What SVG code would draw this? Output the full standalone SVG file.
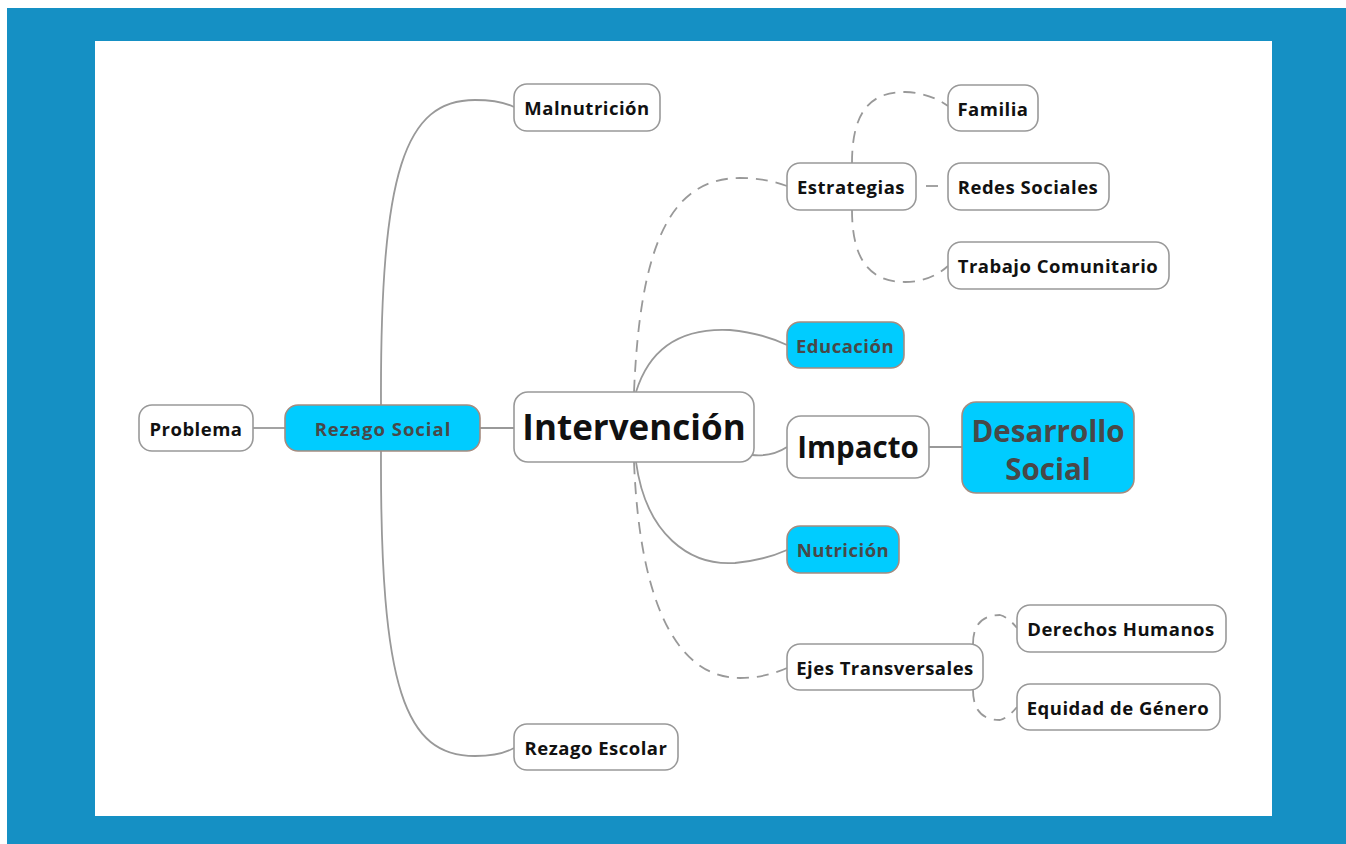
<svg xmlns="http://www.w3.org/2000/svg" width="1346" height="844" viewBox="0 0 1346 844">
<style>
.n rect{fill:#fff;stroke:#999;stroke-width:1.6}
.n.c rect{fill:#00CCFF;stroke:#a58c80}
.n text{font-family:"Open Sans","Noto Sans",sans-serif;font-weight:bold;font-size:18.5px;letter-spacing:0.5px;fill:#111;text-anchor:middle;dominant-baseline:central}
.n.c text{fill:#484848}
.n text.big{font-size:35px;letter-spacing:0}
.n text.mid{font-size:29.5px;letter-spacing:0}
.e path{fill:none;stroke:#999;stroke-width:1.8}
.e .d{stroke-dasharray:12,8}
</style>
<rect x="0" y="0" width="1346" height="844" fill="#fff"/>
<rect x="7" y="8" width="1339" height="836" fill="#1590C4"/>
<rect x="95" y="41" width="1177" height="775" fill="#fff"/>
<g class="e" id="connectors">
<path d="M253,428 L285,428"/>
<path d="M480,428 L514,428"/>
<path d="M381,405 C380,170 405,100 475,100 Q500,100 514,107"/>
<path d="M381,451 C380,690 405,756 475,756 Q500,756 514,748"/>
<path class="d" d="M634,392 C640,250 668,178 740,178 Q765,178 787,186"/>
<path d="M636,392 C652,340 690,328 730,330 Q762,333 787,345"/>
<path d="M752,455 Q772,457 787,447"/>
<path d="M929,447 L962,447"/>
<path d="M636,462 C646,535 690,566 735,563 Q765,560 787,550"/>
<path class="d" d="M634,462 C640,610 680,678 740,678 Q765,678 787,668"/>
<path class="d" d="M852,163 C852,112 870,92 905,92 Q930,93 948,106"/>
<path class="d" d="M926,186 L946,186"/>
<path class="d" d="M852,210 C852,260 870,282 905,282 Q930,282 948,266"/>
<path class="d" d="M973,644 C973,625 982,615 1000,615 Q1008,617 1017,628"/>
<path class="d" d="M973,690 C973,710 982,720 1000,720 Q1008,718 1017,707"/>
</g>
<g class="n" id="problema"><rect x="139" y="405" width="114" height="46" rx="13"/><text x="196" y="428">Problema</text></g>
<g class="n c" id="rezago-social"><rect x="285" y="405" width="195" height="46" rx="13"/><text x="383" y="428" style="letter-spacing:1px">Rezago Social</text></g>
<g class="n" id="intervencion"><rect x="514" y="392" width="240" height="70" rx="14"/><text class="big" x="634" y="426">Intervención</text></g>
<g class="n" id="malnutricion"><rect x="514" y="84" width="146" height="47" rx="13"/><text x="587" y="107">Malnutrición</text></g>
<g class="n" id="rezago-escolar"><rect x="514" y="724" width="164" height="46" rx="13"/><text x="596" y="747">Rezago Escolar</text></g>
<g class="n" id="estrategias"><rect x="787" y="163" width="129" height="47" rx="13"/><text x="851" y="186">Estrategias</text></g>
<g class="n" id="familia"><rect x="948" y="85" width="90" height="46" rx="13"/><text x="993" y="108">Familia</text></g>
<g class="n" id="redes-sociales"><rect x="948" y="163" width="161" height="47" rx="13"/><text x="1028" y="186">Redes Sociales</text></g>
<g class="n" id="trabajo-comunitario"><rect x="948" y="242" width="221" height="47" rx="13"/><text x="1058" y="265">Trabajo Comunitario</text></g>
<g class="n c" id="educacion"><rect x="787" y="322" width="117" height="46" rx="13"/><text x="845" y="345">Educación</text></g>
<g class="n" id="impacto"><rect x="787" y="416" width="142" height="62" rx="14"/><text class="mid" x="858" y="446">Impacto</text></g>
<g class="n c" id="desarrollo-social"><rect x="962" y="402" width="172" height="91" rx="14"/><text class="mid" x="1048" y="430">Desarrollo</text><text class="mid" x="1048" y="468">Social</text></g>
<g class="n c" id="nutricion"><rect x="787" y="526" width="112" height="47" rx="13"/><text x="843" y="549">Nutrición</text></g>
<g class="n" id="ejes-transversales"><rect x="787" y="644" width="196" height="46" rx="13"/><text x="885" y="667">Ejes Transversales</text></g>
<g class="n" id="derechos-humanos"><rect x="1017" y="605" width="209" height="47" rx="13"/><text x="1121" y="628">Derechos Humanos</text></g>
<g class="n" id="equidad-genero"><rect x="1017" y="684" width="203" height="46" rx="13"/><text x="1118" y="707">Equidad de Género</text></g>
</svg>
